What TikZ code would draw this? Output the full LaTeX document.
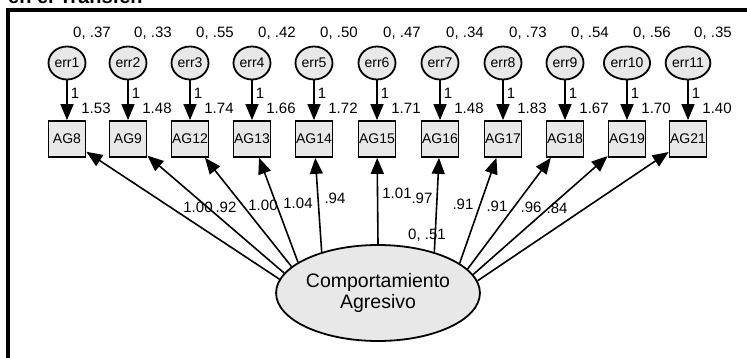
\documentclass[tikz,border=0pt]{standalone}
\usepackage{fontspec}
\setmainfont{Liberation Sans}
\usetikzlibrary{arrows.meta,shapes.geometric}
\definecolor{amosfill}{RGB}{232,232,232}
\begin{document}
\begin{tikzpicture}[x=1pt,y=-1pt,
  errnode/.style={ellipse, draw, line width=1.8pt, fill=amosfill, minimum width=37pt, minimum height=33pt, inner sep=0pt, font=\fontsize{14}{14}\selectfont},
  obsnode/.style={rectangle, draw, line width=1.8pt, fill=amosfill, minimum width=37pt, minimum height=36pt, inner sep=0pt, font=\fontsize{14}{14}\selectfont},
  latnode/.style={ellipse, draw, line width=1.8pt, fill=amosfill, minimum width=166pt, minimum height=96pt, inner sep=0pt, align=center, font=\fontsize{19.5}{21}\selectfont},
  arr/.style={line width=1.6pt, -{Triangle[length=16pt,width=13pt]}},
  lbl/.style={font=\fontsize{15}{15}\selectfont, inner sep=0pt}]
\clip (0,0) rectangle (747,358);
% partially visible title
\node[anchor=base west, inner sep=0pt, font=\bfseries\fontsize{20}{20}\selectfont] (title) at (8,4) {en el Transfer.};
% frame
\draw[line width=4pt, line join=miter] (8,362) -- (8,10.5) -- (752,10.5);
% latent
\node[latnode] (lat) at (378,293) {Comportamiento\\Agresivo};
\node[lbl] (latvar) at (427,235) {0, .51};
% indicators and errors
\foreach \x/\n/\e/\v/\i in {67/AG8/err1/.37/1.53, 128/AG9/err2/.33/1.48, 190/AG12/err3/.55/1.74, 252/AG13/err4/.42/1.66, 314/AG14/err5/.50/1.72, 377/AG15/err6/.47/1.71, 440/AG16/err7/.34/1.48, 503/AG17/err8/.73/1.83, 565/AG18/err9/.54/1.67, 627/AG19/err10/.56/1.70, 688/AG21/err11/.35/1.40} {
  \node[errnode] (\e) at (\x,63) {\e};
  \node[obsnode] (\n) at (\x,139) {\n};
  \draw[arr] (\e) -- (\n);
  \node[lbl] (v\e) at (\x+25,33) {0, \v};
  \node[lbl] (one\e) at (\x+8,93) {1};
  \node[lbl] (int\n) at (\x+29,108) {\i};
}
% loadings
\foreach \a/\n/\w/\lx/\ly in {172/AG8/1.00/198/207, 168/AG9/.92/226/207, 163/AG12/1.00/263/205, 159/AG13/1.04/298/203, 144/AG14/.94/335/198, 90/AG15/1.01/397/193, 36/AG16/.97/422/198, 20/AG17/.91/463/204, 15/AG18/.91/497/206, 11/AG19/.96/531/207, 7/AG21/.84/557/208} {
  \draw[arr] (lat.\a) -- (\n);
  \node[lbl] (w\n) at (\lx,\ly) {\w};
}
\end{tikzpicture}
\end{document}
